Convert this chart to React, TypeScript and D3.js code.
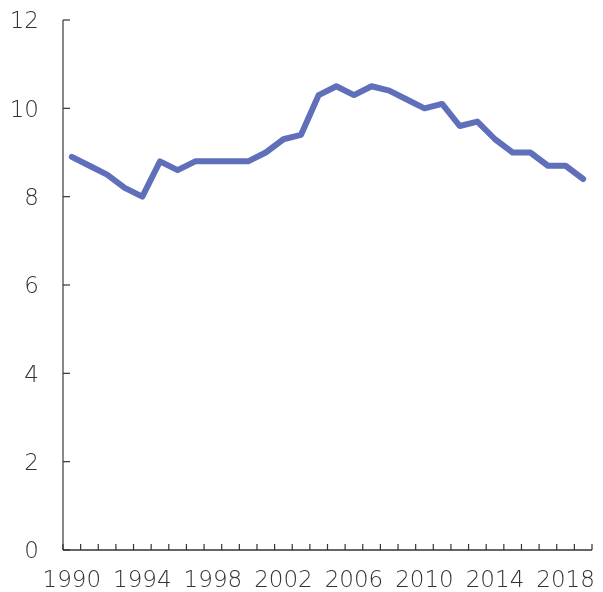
import React, { useEffect, useRef } from "react"
import * as d3 from "d3"

const WIDTH = 603
const HEIGHT = 592
const MARGIN = { top: 20, right: 11, bottom: 42, left: 63 }

const years = d3.range(1990, 2020)
const values = [
    8.9, 8.7, 8.5, 8.2, 8.0, 8.8, 8.6, 8.8, 8.8, 8.8,
    8.8, 9.0, 9.3, 9.4, 10.3, 10.5, 10.3, 10.5, 10.4, 10.2,
    10.0, 10.1, 9.6, 9.7, 9.3, 9.0, 9.0, 8.7, 8.7, 8.4,
]
const yTicks = [0, 2, 4, 6, 8, 10, 12]
const xLabelYears = [1990, 1994, 1998, 2002, 2006, 2010, 2014, 2018]

const FONT = "'DejaVu Sans', sans-serif"

const LineChart: React.FC = () => {
    const svgRef = useRef<SVGSVGElement | null>(null)

    useEffect(() => {
        if (!svgRef.current) return
        const svg = d3.select(svgRef.current)
        svg.selectAll("*").remove()

        const innerWidth = WIDTH - MARGIN.left - MARGIN.right
        const innerHeight = HEIGHT - MARGIN.top - MARGIN.bottom

        const xScale = d3
            .scaleBand<number>()
            .domain(years)
            .range([0, innerWidth])
        const yScale = d3.scaleLinear().domain([0, 12]).range([innerHeight, 0])

        const chart = svg
            .append("g")
            .attr("transform", `translate(${MARGIN.left},${MARGIN.top})`)

        // 縦軸
        chart
            .append("line")
            .attr("x1", 0)
            .attr("x2", 0)
            .attr("y1", 0)
            .attr("y2", innerHeight)
            .attr("stroke", "#888")
            .attr("stroke-width", 2)

        chart
            .selectAll(".ytick")
            .data(yTicks)
            .enter()
            .append("line")
            .attr("x1", 0)
            .attr("x2", 7)
            .attr("y1", d => yScale(d))
            .attr("y2", d => yScale(d))
            .attr("stroke", "#333")
            .attr("stroke-width", 1.2)

        chart
            .selectAll(".ylabel")
            .data(yTicks)
            .enter()
            .append("text")
            .attr("x", -24)
            .attr("y", d => yScale(d))
            .attr("dy", "0.36em")
            .attr("text-anchor", "end")
            .style("font-family", FONT)
            .style("font-weight", 300)
            .style("font-size", "23px")
            .style("fill", "#333")
            .text(d => String(d))

        // 横軸
        chart
            .append("line")
            .attr("x1", 0)
            .attr("x2", innerWidth)
            .attr("y1", innerHeight)
            .attr("y2", innerHeight)
            .attr("stroke", "#333")
            .attr("stroke-width", 1.5)

        const boundaries = years.map(y => xScale(y)!).concat([innerWidth])
        chart
            .selectAll(".xtick")
            .data(boundaries)
            .enter()
            .append("line")
            .attr("x1", d => d)
            .attr("x2", d => d)
            .attr("y1", innerHeight)
            .attr("y2", innerHeight - 6)
            .attr("stroke", "#333")
            .attr("stroke-width", 1.2)

        chart
            .selectAll(".xlabel")
            .data(xLabelYears)
            .enter()
            .append("text")
            .attr("x", d => xScale(d)! + xScale.bandwidth() / 2)
            .attr("y", innerHeight + 29)
            .attr("dy", "0.36em")
            .attr("text-anchor", "middle")
            .style("font-family", FONT)
            .style("font-weight", 300)
            .style("font-size", "23px")
            .style("fill", "#333")
            .text(d => String(d))

        // 折れ線
        const line = d3
            .line<number>()
            .x((_, i) => xScale(years[i])! + xScale.bandwidth() / 2)
            .y(d => yScale(d))

        chart
            .append("path")
            .datum(values)
            .attr("fill", "none")
            .attr("stroke", "#5f6fba")
            .attr("stroke-width", 6)
            .attr("stroke-linejoin", "round")
            .attr("stroke-linecap", "round")
            .attr("d", line)
    }, [])

    return <svg ref={svgRef} width={WIDTH} height={HEIGHT} style={{ display: "block" }} />
}

export default function App() {
    return (
        <div style={{ position: "fixed", left: 0, top: 0 }}>
            <LineChart />
        </div>
    )
}
